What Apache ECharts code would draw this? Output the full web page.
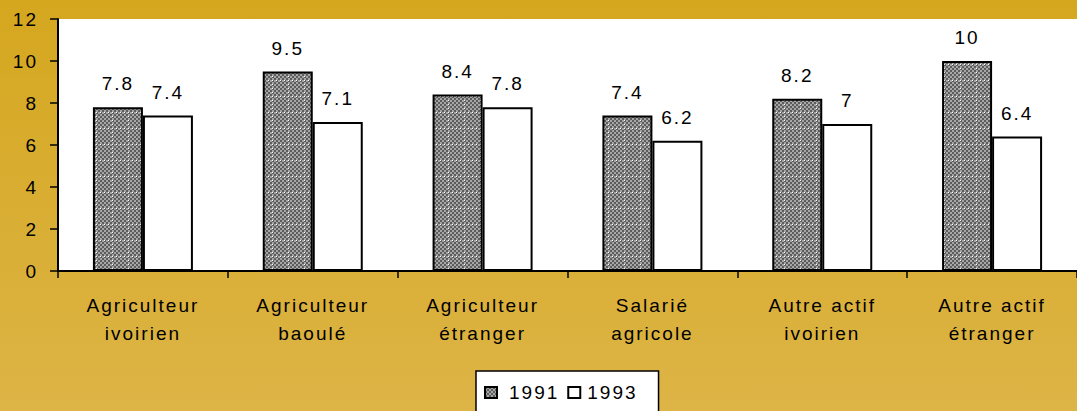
<html>
  <head>
    <meta charset="utf-8" />
    <script src="https://cdn.jsdelivr.net/npm/echarts@6/dist/echarts.min.js"></script>
    <style>
      body {
        margin: 0;
        width: 1077px;
        height: 411px;
        background: linear-gradient(to bottom, #d5a71f, #ddb446);
      }
      #main {
        width: 1077px;
        height: 411px;
      }
      /* the old Excel export has wide letter spacing */
      #main text {
        letter-spacing: 2px;
      }
    </style>
  </head>
  <body>
    <div id="main"></div>
    <script>
      const categories = [
        'Agriculteur\nivoirien',
        'Agriculteur\nbaoulé',
        'Agriculteur\nétranger',
        'Salarié\nagricole',
        'Autre actif\nivoirien',
        'Autre actif\nétranger',
      ];
      const values1991 = [7.8, 9.5, 8.4, 7.4, 8.2, 10];
      const values1993 = [7.4, 7.1, 7.8, 6.2, 7, 6.4];

      // grey checker with a dotted white grid
      function makeHatch() {
        const c = document.createElement('canvas');
        c.width = 16;
        c.height = 16;
        const ctx = c.getContext('2d');
        for (let y = 0; y < 16; y += 2) {
          for (let x = 0; x < 16; x += 2) {
            ctx.fillStyle = (x + y) % 4 === 0 ? '#5c5c5c' : '#a6a6a6';
            ctx.fillRect(x, y, 2, 2);
          }
        }
        ctx.fillStyle = '#ffffff';
        for (let i = 0; i < 16; i += 4) {
          ctx.fillRect(i, 0, 1, 1);
          ctx.fillRect(0, i, 1, 1);
        }
        return c.toDataURL();
      }
      const hatch = { image: makeHatch(), repeat: 'repeat' };

      const chart = echarts.init(document.getElementById('main'), null, {
        renderer: 'svg',
      });

      const font = 'Liberation Sans, Arial';

      const labelStyle = {
        show: true,
        position: 'top',
        distance: 14,
        fontFamily: font,
        fontSize: 19,
        color: '#000',
      };

      chart.setOption({
        backgroundColor: 'transparent',
        animation: false,
        grid: {
          left: 58,
          right: 0,
          top: 19,
          bottom: 140,
          show: true,
          backgroundColor: '#ffffff',
          borderWidth: 0,
        },
        legend: {
          left: 476,
          top: 371,
          data: [
            { name: '1991', textStyle: { padding: [0, 0, 0, 7] } },
            { name: '1993', textStyle: { padding: [0, 0, 0, 2] } },
          ],
          icon: 'rect',
          backgroundColor: '#ffffff',
          borderColor: '#000',
          borderWidth: 1.5,
          borderRadius: 0,
          padding: [12, 29, 20, 8],
          itemWidth: 12,
          itemHeight: 11,
          itemGap: 16,
          textStyle: {
            fontFamily: font,
            fontSize: 19,
            color: '#000',
          },
        },
        xAxis: {
          type: 'category',
          data: categories,
          axisLine: { lineStyle: { color: '#000', width: 2 } },
          axisTick: {
            show: true,
            length: 7,
            lineStyle: { color: '#000', width: 1.5 },
          },
          axisLabel: {
            margin: 20,
            fontFamily: font,
            fontSize: 19,
            lineHeight: 28,
            color: '#000',
          },
        },
        yAxis: {
          type: 'value',
          min: 0,
          max: 12,
          interval: 2,
          axisLine: { show: true, lineStyle: { color: '#000', width: 2 } },
          axisTick: {
            show: true,
            length: 8,
            lineStyle: { color: '#000', width: 1.5 },
          },
          splitLine: { show: false },
          axisLabel: {
            margin: 20,
            fontFamily: font,
            fontSize: 19,
            color: '#000',
          },
        },
        series: [
          {
            name: '1991',
            type: 'bar',
            data: values1991,
            barWidth: 50,
            barGap: '0%',
            itemStyle: { color: hatch, borderColor: '#000', borderWidth: 2 },
            label: labelStyle,
          },
          {
            name: '1993',
            type: 'bar',
            data: values1993,
            barWidth: 50,
            itemStyle: { color: '#ffffff', borderColor: '#000', borderWidth: 2 },
            label: labelStyle,
          },
        ],
      });
    </script>
  </body>
</html>
